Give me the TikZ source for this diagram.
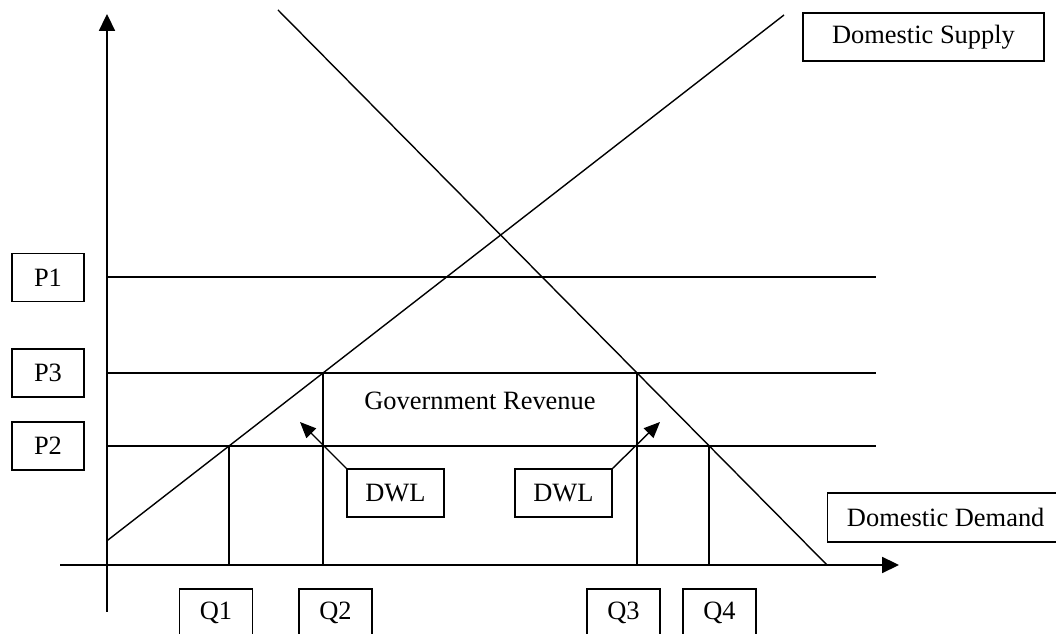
\documentclass[tikz,border=0pt]{standalone}
\usepackage{fontspec}
\setmainfont{Liberation Serif}
\usetikzlibrary{arrows.meta}
\tikzset{
  lbox/.style={draw, line width=0.035cm, minimum width=1.8cm, minimum height=1.2cm, inner sep=0pt},
  axisarrow/.style={line width=0.035cm, -{Triangle[length=0.42cm,width=0.4cm]}},
  dwlarrow/.style={line width=0.035cm, -{Triangle[length=0.4cm,width=0.34cm]}}
}
\begin{document}
\begin{tikzpicture}
                \useasboundingbox (0,0) rectangle (26.400000,15.850000);
                \clip (0,0) rectangle (26.400000,15.850000);
                {\fontsize{18.8}{22}\selectfont
                
                % Drawing axes
                \draw [axisarrow] (2.675000,0.550000) -- (2.675000,15.500000);%
                \draw [axisarrow] (1.500000,1.725000) -- (22.475000,1.725000);%
                
                % Drawing price lines P1 P3 P2
                \draw [line width=0.035cm] (2.675000,8.925000) -- (21.900000,8.925000);%
                \draw [line width=0.035cm] (2.675000,6.525000) -- (21.900000,6.525000);%
                \draw [line width=0.035cm] (2.675000,4.700000) -- (21.900000,4.700000);%
                
                % Drawing supply and demand
                \draw [line width=0.035cm] (2.675000,2.331000) -- (19.600000,15.475000);%
                \draw [line width=0.035cm] (6.950000,15.600000) -- (20.675000,1.725000);%
                
                % Drawing quantity lines Q1 Q2 Q3 Q4
                \draw [line width=0.035cm] (5.725000,4.700000) -- (5.725000,1.725000);%
                \draw [line width=0.035cm] (8.075000,6.525000) -- (8.075000,1.725000);%
                \draw [line width=0.035cm] (15.925000,6.525000) -- (15.925000,1.725000);%
                \draw [line width=0.035cm] (17.725000,4.700000) -- (17.725000,1.725000);%
                
                % Price labels
                \node [lbox] (p1) at (1.200000,8.912500) {P1};%
                \node [lbox] (p3) at (1.200000,6.525000) {P3};%
                \node [lbox] (p2) at (1.200000,4.700000) {P2};%
                
                % Quantity labels
                \node [lbox, minimum width=1.825cm] (q1) at (5.400000,0.525000) {Q1};%
                \node [lbox, minimum width=1.825cm] (q2) at (8.387500,0.525000) {Q2};%
                \node [lbox, minimum width=1.825cm] (q3) at (15.587500,0.525000) {Q3};%
                \node [lbox, minimum width=1.825cm] (q4) at (17.987500,0.525000) {Q4};%
                
                % Curve labels
                \node [lbox, minimum width=6.025cm] (supply) at (23.087500,14.925000) {Domestic Supply};%
                \node [lbox, minimum width=5.900cm, minimum height=1.225cm, anchor=west] (demand) at (20.675000,2.912500) {Domestic Demand};%
                
                % Government revenue and DWL
                \node (revenue) at (12.000000,5.825000) {Government Revenue};%
                \node [lbox, minimum width=2.425cm] (dwlleft) at (9.887500,3.525000) {DWL};%
                \node [lbox, minimum width=2.425cm] (dwlright) at (14.087500,3.525000) {DWL};%
                \coordinate (tipleft) at (7.500000,5.300000);%
                \coordinate (tipright) at (16.500000,5.300000);%
                \draw [dwlarrow] (dwlleft.north west) -- (tipleft);%
                \draw [dwlarrow] (dwlright.north east) -- (tipright);%
                }
\end{tikzpicture}
\end{document}
